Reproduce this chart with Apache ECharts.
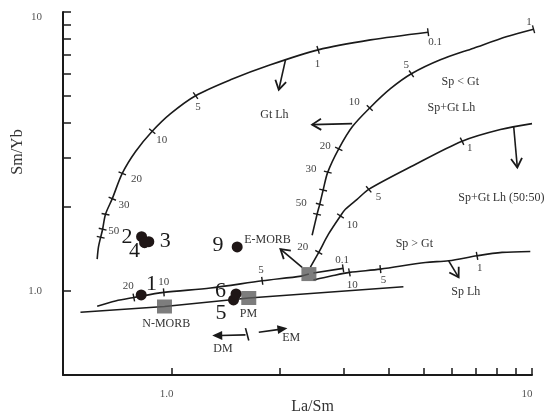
<!DOCTYPE html>
<html><head><meta charset="utf-8">
<script src="https://cdn.jsdelivr.net/npm/echarts@6/dist/echarts.min.js"></script>
<style>html,body{margin:0;padding:0;background:#fff}#c{width:550px;height:420px}</style>
</head><body><div id="c"></div>
<script>
// ---- axis ticks / labels ----
const xTickValues = [1, 2, 3, 4, 5, 6, 7, 8, 9, 10];
const yTickValues = [1, 2, 3, 4, 5, 6, 7, 8, 9, 10];
const xLabelValues = [1, 10];
const yLabelValues = [1, 10];

// ---- melting curves [La/Sm, Sm/Yb] ----
const gtCurve = [[0.622,1.301],[0.627,1.436],[0.636,1.559],[0.644,1.665],[0.656,1.884],[0.685,2.143],[0.730,2.639],[0.795,3.162],[0.884,3.737],[0.994,4.322],[1.166,5.012],[1.457,5.715],[1.881,6.468],[2.551,7.317],[3.563,7.943],[5.150,8.465]];
const spgtCurve = [[2.455,1.585],[2.534,1.884],[2.577,2.045],[2.634,2.301],[2.713,2.667],[2.910,3.233],[3.176,3.884],[3.547,4.530],[4.048,5.309],[4.628,6.006],[5.569,6.740],[6.888,7.419],[8.526,8.163],[10.10,8.675]];
const mixCurve = [[2.428,1.218],[2.561,1.375],[2.725,1.598],[2.942,1.858],[3.036,1.963],[3.272,2.131],[3.524,2.314],[4.687,2.818],[6.397,3.442],[8.171,3.790],[10.0,3.981]];
const spCurveWest = [[0.622,0.882],[0.699,0.921],[0.786,0.948],[0.952,0.989],[1.283,1.025],[1.785,1.088],[2.293,1.131],[2.405,1.150]];
const spBranchUpper = [[2.475,1.160],[2.992,1.205]];
const spBranchLower = [[2.475,1.095],[2.790,1.134],[3.115,1.166],[3.797,1.198],[5.061,1.266],[5.873,1.283],[7.040,1.337],[8.260,1.375],[9.892,1.386]];
const mantleLine = [[0.559,0.839],[0.956,0.880],[1.638,0.944],[4.398,1.036]];

// ---- tick marks on curves ----
const gtTicks = [[0.636,1.559],[0.644,1.665],[0.656,1.884],[0.685,2.143],[0.730,2.639],[0.884,3.737],[1.166,5.012],[2.551,7.317],[5.150,8.465]];
const spgtTicks = [[2.534,1.884],[2.577,2.045],[2.634,2.301],[2.713,2.667],[2.910,3.233],[3.547,4.530],[4.628,6.006],[10.10,8.675]];
const mixTicks = [[2.561,1.375],[2.942,1.858],[3.524,2.314],[6.397,3.442]];
const spWestTicks = [[0.786,0.948],[0.952,0.989],[1.785,1.088]];
const spUpperTicks = [[2.992,1.205]];
const spLowerTicks = [[3.115,1.166],[3.797,1.198],[7.040,1.337]];

// ---- samples and reservoirs ----
const sampleIds = ['1','2','3','4','5','6','9'];
const sampleLaSm = [0.824,0.826,0.865,0.842,1.486,1.510,1.521];
const sampleSmYb = [0.968,1.566,1.503,1.490,0.929,0.976,1.439];
const reservoirNames = ['N-MORB','PM','E-MORB'];
const reservoirLaSm = [0.956,1.638,2.405];
const reservoirSmYb = [0.880,0.944,1.150];

// ---- arrows [x1,y1,x2,y2,kind] kind 0 open head, 1 filled head, 2 plain ----
const arrows = [[2.071,6.740,1.984,5.265,0],[3.170,3.981,2.455,3.949,0],[8.895,3.894,9.105,2.773,0],[2.303,1.215,2.005,1.413,0],[5.873,1.283,6.259,1.119,0],[1.604,0.696,1.297,0.692,1],[1.746,0.712,2.097,0.735,1],[1.604,0.736,1.638,0.665,2]];

// ---- text annotations [La/Sm, Sm/Yb, text] ----
const sampleLabels = [[0.880,1.055,'1'],[0.752,1.555,'2'],[0.961,1.509,'3'],[0.790,1.384,'4'],[1.372,0.835,'5'],[1.367,0.996,'6'],[1.346,1.462,'9']];
const fieldLabels = [[0.967,0.762,'N-MORB'],[1.635,0.828,'PM'],[1.389,0.621,'DM'],[2.148,0.679,'EM'],[1.846,1.521,'E-MORB'],[1.930,4.287,'Gt Lh'],[6.327,5.623,'Sp < Gt'],[5.974,4.542,'Sp+Gt Lh'],[8.222,2.158,'Sp+Gt Lh (50:50)'],[4.717,1.478,'Sp > Gt'],[6.553,0.992,'Sp Lh']];
const meltLabels = [[0.691,1.638,'50'],[0.738,2.037,'30'],[0.799,2.512,'20'],[0.940,3.476,'10'],[1.184,4.560,'5'],[2.540,6.521,'1'],[5.385,7.782,'0.1'],[2.290,2.074,'50'],[2.436,2.738,'30'],[2.668,3.317,'20'],[3.213,4.763,'10'],[4.477,6.441,'5'],[9.811,9.173,'1'],[2.311,1.436,'20'],[3.170,1.718,'10'],[3.749,2.167,'5'],[6.723,3.241,'1'],[0.758,1.042,'20'],[0.952,1.077,'10'],[1.771,1.189,'5'],[2.972,1.292,'0.1'],[3.170,1.052,'10'],[3.870,1.093,'5'],[7.166,1.206,'1']];

const FONT = "'Liberation Serif','DejaVu Serif',serif";
const INK = '#1a1a1a';

function tickItems(curve, ticks) {
  const L = v => Math.log10(v);
  return ticks.map(t => {
    let best = 0, bd = Infinity;
    for (let i = 0; i < curve.length - 1; i++) {
      const ax = L(curve[i][0]), ay = L(curve[i][1]), bx = L(curve[i+1][0]), by = L(curve[i+1][1]);
      const tx = L(t[0]), ty = L(t[1]);
      const dx = bx - ax, dy = by - ay;
      let u = ((tx - ax) * dx + (ty - ay) * dy) / (dx * dx + dy * dy || 1);
      u = Math.max(0, Math.min(1, u));
      const d = (ax + u * dx - tx) ** 2 + (ay + u * dy - ty) ** 2;
      if (d < bd) { bd = d; best = i; }
    }
    return [t[0], t[1], curve[best][0], curve[best][1], curve[best+1][0], curve[best+1][1]];
  });
}

const allTicks = [].concat(
  tickItems(gtCurve, gtTicks), tickItems(spgtCurve, spgtTicks), tickItems(mixCurve, mixTicks),
  tickItems(spCurveWest, spWestTicks), tickItems(spBranchUpper, spUpperTicks), tickItems(spBranchLower, spLowerTicks));

function curveSeries(data, smooth) {
  return { type: 'line', data: data, showSymbol: false, symbol: 'none', smooth: smooth, clip: false,
    lineStyle: { color: INK, width: 1.6 }, z: 2, silent: true };
}

function textSeries(list, size, color) {
  return {
    type: 'custom', data: list.map(d => [d[0], d[1]]), z: 10, silent: true,
    renderItem: function (params, api) {
      const p = api.coord([api.value(0), api.value(1)]);
      return { type: 'text', x: p[0], y: p[1], style: { text: list[params.dataIndex][2], fill: color,
        font: size + 'px ' + FONT, align: 'center', verticalAlign: 'middle' } };
    }
  };
}

const chart = echarts.init(document.getElementById('c'), null, { renderer: 'canvas' });
chart.setOption({
  animation: false,
  backgroundColor: '#fff',
  grid: { left: 63, right: 18, top: 12, bottom: 45, containLabel: false, outerBoundsMode: 'none' },
  xAxis: {
    type: 'log', logBase: 10, min: 0.5, max: 10,
    name: 'La/Sm', nameLocation: 'middle', nameGap: 24, nameMoveOverlap: false,
    nameTextStyle: { fontFamily: FONT, fontSize: 16, color: '#333', padding: [0, 0, 0, 30] },
    axisLine: { show: true, lineStyle: { color: INK, width: 2 } },
    axisTick: { show: true, inside: true, length: 7, customValues: xTickValues, lineStyle: { color: INK, width: 1.5 } },
    axisLabel: { show: true, customValues: xLabelValues, margin: 14, fontFamily: FONT, fontSize: 11, color: '#555',
      padding: [0, 10, 0, 0], formatter: v => (Math.abs(v - 1) < 1e-9 ? '1.0' : '10') },
    splitLine: { show: false }, minorTick: { show: false }, minorSplitLine: { show: false }
  },
  yAxis: {
    type: 'log', logBase: 10, min: 0.5, max: 10,
    name: 'Sm/Yb', nameLocation: 'middle', nameGap: 37, nameMoveOverlap: false,
    nameTextStyle: { fontFamily: FONT, fontSize: 16, color: '#333', padding: [0, 0, 0, 83] },
    axisLine: { show: true, lineStyle: { color: INK, width: 2 } },
    axisTick: { show: true, inside: true, length: 8, customValues: yTickValues, lineStyle: { color: INK, width: 1.5 } },
    axisLabel: { show: true, customValues: yLabelValues, margin: 21, fontFamily: FONT, fontSize: 11, color: '#555',
      verticalAlignMaxLabel: 'top', formatter: v => (Math.abs(v - 1) < 1e-9 ? '1.0' : '10') },
    splitLine: { show: false }, minorTick: { show: false }, minorSplitLine: { show: false }
  },
  series: [
    curveSeries(gtCurve, 0.3),
    curveSeries(spgtCurve, 0.3),
    curveSeries(mixCurve, 0.3),
    curveSeries(spCurveWest, 0.3),
    curveSeries(spBranchUpper, false),
    curveSeries(spBranchLower, 0.3),
    curveSeries(mantleLine, false),
    {
      type: 'custom', data: allTicks, z: 3, silent: true,
      renderItem: function (params, api) {
        const p = api.coord([api.value(0), api.value(1)]);
        const a = api.coord([api.value(2), api.value(3)]);
        const b = api.coord([api.value(4), api.value(5)]);
        let dx = b[0] - a[0], dy = b[1] - a[1];
        const L = Math.hypot(dx, dy) || 1; dx /= L; dy /= L;
        const h = 4;
        return { type: 'line', shape: { x1: p[0] - dy * h, y1: p[1] + dx * h, x2: p[0] + dy * h, y2: p[1] - dx * h },
          style: { stroke: INK, lineWidth: 1.4 } };
      }
    },
    {
      type: 'custom', data: arrows, z: 4, silent: true,
      renderItem: function (params, api) {
        const p1 = api.coord([api.value(0), api.value(1)]);
        const p2 = api.coord([api.value(2), api.value(3)]);
        const kind = api.value(4);
        let ux = p2[0] - p1[0], uy = p2[1] - p1[1];
        const L = Math.hypot(ux, uy) || 1; ux /= L; uy /= L;
        const nx = -uy, ny = ux;
        const children = [];
        if (kind === 2) {
          children.push({ type: 'line', shape: { x1: p1[0], y1: p1[1], x2: p2[0], y2: p2[1] }, style: { stroke: INK, lineWidth: 1.6 } });
        } else if (kind === 1) {
          const hl = 10, hw = 4.5;
          children.push({ type: 'line', shape: { x1: p1[0], y1: p1[1], x2: p2[0] - ux * hl * 0.8, y2: p2[1] - uy * hl * 0.8 }, style: { stroke: INK, lineWidth: 1.6 } });
          children.push({ type: 'polygon', shape: { points: [[p2[0], p2[1]], [p2[0] - ux * hl + nx * hw, p2[1] - uy * hl + ny * hw], [p2[0] - ux * hl - nx * hw, p2[1] - uy * hl - ny * hw]] }, style: { fill: INK } });
        } else {
          const hl = 9, hw = 5.5;
          children.push({ type: 'line', shape: { x1: p1[0], y1: p1[1], x2: p2[0], y2: p2[1] }, style: { stroke: INK, lineWidth: 1.6 } });
          children.push({ type: 'polyline', shape: { points: [[p2[0] - ux * hl + nx * hw, p2[1] - uy * hl + ny * hw], [p2[0], p2[1]], [p2[0] - ux * hl - nx * hw, p2[1] - uy * hl - ny * hw]] }, style: { stroke: INK, lineWidth: 1.8, fill: null } });
        }
        return { type: 'group', children: children };
      }
    },
    {
      type: 'scatter', data: reservoirLaSm.map((x, i) => ({ name: reservoirNames[i], value: [x, reservoirSmYb[i]] })),
      symbol: 'rect', symbolSize: [15, 14], itemStyle: { color: '#5c5c5c' }, z: 5, silent: true
    },
    {
      type: 'scatter', data: sampleLaSm.map((x, i) => ({ name: sampleIds[i], value: [x, sampleSmYb[i]] })),
      symbol: 'circle', symbolSize: 11, itemStyle: { color: '#1f1616', opacity: 1 }, z: 6, silent: true
    },
    textSeries(sampleLabels, 22, '#1a1a1a'),
    textSeries(fieldLabels, 12, '#333'),
    textSeries(meltLabels, 11, '#444')
  ]
});
</script>
</body></html>
